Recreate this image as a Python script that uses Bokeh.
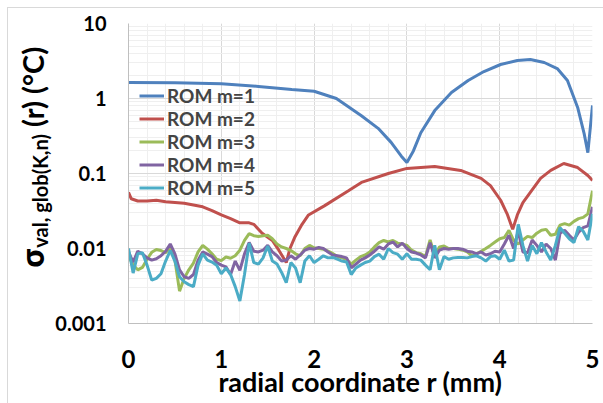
import numpy as np
from bokeh.plotting import figure
from bokeh.layouts import row
from bokeh.models import (Div, Legend, LegendItem, SingleIntervalTicker,
                          FixedTicker, CustomJSTickFormatter)
from bokeh.embed import file_html
from bokeh.resources import INLINE

# ---------------- data ----------------
series_labels = ["ROM m=1", "ROM m=2", "ROM m=3", "ROM m=4", "ROM m=5"]
series_colors = ["#4F81BD", "#C0504D", "#9BBB59", "#8064A2", "#4BACC6"]

x_ticks = [0, 1, 2, 3, 4, 5]
y_ticks = [0.001, 0.01, 0.1, 1, 10]

r_m1 = [0, 0.5, 1.0, 1.4, 1.76, 2.0, 2.24, 2.51, 2.69, 2.83, 2.94, 3.0, 3.07,
        3.15, 3.3, 3.48, 3.66, 3.83, 4.01, 4.19, 4.33, 4.48, 4.62, 4.73, 4.84,
        4.91, 4.95, 5.0]
m1 = [1.63, 1.62, 1.57, 1.45, 1.32, 1.25, 1.0, 0.59, 0.40, 0.26, 0.17, 0.14,
      0.20, 0.35, 0.69, 1.2, 1.74, 2.29, 2.84, 3.21, 3.31, 3.02, 2.51, 1.74,
      0.76, 0.34, 0.19, 0.81]

r_m2 = [0, 0.03, 0.1, 0.2, 0.3, 0.4, 0.5, 0.6, 0.7, 0.8, 0.9, 1.0, 1.1, 1.2,
        1.3, 1.35, 1.44, 1.55, 1.62, 1.7, 1.74, 1.79, 1.87, 1.94, 2.11, 2.37,
        2.51, 2.8, 3.0, 3.3, 3.58, 3.8, 3.9, 4.01, 4.08, 4.14, 4.19, 4.25,
        4.33, 4.44, 4.55, 4.69, 4.84, 4.95, 5.0]
m2 = [0.056, 0.046, 0.043, 0.043, 0.044, 0.042, 0.041, 0.040, 0.038, 0.036,
      0.032, 0.028, 0.025, 0.022, 0.022, 0.021, 0.016, 0.0128, 0.0095, 0.0065,
      0.010, 0.014, 0.021, 0.028, 0.037, 0.059, 0.076, 0.100, 0.117, 0.124,
      0.11, 0.086, 0.069, 0.044, 0.029, 0.018, 0.028, 0.041, 0.056, 0.086,
      0.11, 0.136, 0.12, 0.094, 0.081]

# radial sampling of the noisy series (0 .. 5 mm, every 0.05 mm)
r_grid = np.round(np.linspace(0, 5, 101), 2)

m3 = [0.0080, 0.0060, 0.0052, 0.0056, 0.0072, 0.0089, 0.0097, 0.0094, 0.0088, 0.0104,
      0.0070, 0.0027, 0.0040, 0.0052, 0.0064, 0.0090, 0.0110, 0.0098, 0.0085, 0.0072,
      0.0069, 0.0077, 0.0074, 0.0080, 0.0095, 0.0128, 0.0158, 0.0148, 0.0145, 0.0148,
      0.0150, 0.0135, 0.0115, 0.0105, 0.0100, 0.0094, 0.0085, 0.0080, 0.0100, 0.0110,
      0.0102, 0.0100, 0.0098, 0.0092, 0.0086, 0.0078, 0.0075, 0.0072, 0.0062, 0.0070,
      0.0078, 0.0082, 0.0090, 0.0105, 0.0120, 0.0128, 0.0122, 0.0128, 0.0118, 0.0115,
      0.0110, 0.0095, 0.0088, 0.0085, 0.0078, 0.0130, 0.0080, 0.0105, 0.0108, 0.0100,
      0.0100, 0.0098, 0.0095, 0.0090, 0.0080, 0.0085, 0.0092, 0.0100, 0.0110, 0.0122,
      0.0135, 0.0140, 0.0175, 0.0128, 0.0115, 0.0130, 0.0145, 0.0140, 0.0160, 0.0175,
      0.0180, 0.0150, 0.0155, 0.0205, 0.0215, 0.0205, 0.0230, 0.0250, 0.0260, 0.0290,
      0.0590]

m4 = [0.0090, 0.0066, 0.0092, 0.0085, 0.0075, 0.0070, 0.0073, 0.0080, 0.0092, 0.0115,
      0.0085, 0.0052, 0.0042, 0.0040, 0.0045, 0.0070, 0.0090, 0.0084, 0.0078, 0.0065,
      0.0060, 0.0057, 0.0045, 0.0068, 0.0051, 0.0085, 0.0120, 0.0092, 0.0090, 0.0095,
      0.0110, 0.0090, 0.0080, 0.0068, 0.0070, 0.0080, 0.0072, 0.0082, 0.0095, 0.0100,
      0.0098, 0.0103, 0.0100, 0.0090, 0.0082, 0.0080, 0.0078, 0.0075, 0.0055, 0.0062,
      0.0070, 0.0075, 0.0082, 0.0092, 0.0105, 0.0098, 0.0115, 0.0122, 0.0105, 0.0118,
      0.0100, 0.0090, 0.0087, 0.0082, 0.0075, 0.0120, 0.0075, 0.0095, 0.0100, 0.0098,
      0.0100, 0.0100, 0.0098, 0.0092, 0.0090, 0.0085, 0.0090, 0.0082, 0.0085, 0.0092,
      0.0090, 0.0115, 0.0150, 0.0100, 0.0170, 0.0090, 0.0088, 0.0130, 0.0110, 0.0090,
      0.0115, 0.0100, 0.0070, 0.0160, 0.0175, 0.0150, 0.0130, 0.0165, 0.0190, 0.0200,
      0.0360]

m5 = [0.0100, 0.0047, 0.0085, 0.0088, 0.0060, 0.0038, 0.0040, 0.0046, 0.0068, 0.0094,
      0.0068, 0.0042, 0.0036, 0.0033, 0.0031, 0.0060, 0.0085, 0.0070, 0.0066, 0.0060,
      0.0046, 0.0055, 0.0045, 0.0031, 0.0020, 0.0045, 0.0118, 0.0065, 0.0062, 0.0075,
      0.0108, 0.0068, 0.0062, 0.0048, 0.0035, 0.0065, 0.0055, 0.0035, 0.0068, 0.0080,
      0.0065, 0.0072, 0.0080, 0.0075, 0.0076, 0.0072, 0.0068, 0.0066, 0.0045, 0.0055,
      0.0060, 0.0065, 0.0068, 0.0078, 0.0084, 0.0072, 0.0100, 0.0088, 0.0084, 0.0072,
      0.0085, 0.0072, 0.0072, 0.0070, 0.0060, 0.0052, 0.0110, 0.0052, 0.0078, 0.0072,
      0.0075, 0.0076, 0.0076, 0.0075, 0.0078, 0.0080, 0.0075, 0.0068, 0.0078, 0.0080,
      0.0072, 0.0095, 0.0068, 0.0070, 0.0210, 0.0110, 0.0068, 0.0110, 0.0085, 0.0120,
      0.0090, 0.0070, 0.0110, 0.0190, 0.0160, 0.0135, 0.0120, 0.0195, 0.0170, 0.0130,
      0.0290]

W_LEFT = 52
H = 403

# ---------------- main figure ----------------
p = figure(width=603 - W_LEFT, height=H, x_range=(0, 5), y_range=(0.001, 10),
           y_axis_type="log", output_backend="svg", toolbar_location=None,
           min_border_left=126 - W_LEFT, min_border_right=11, min_border_top=23,
           min_border_bottom=80)
p.outline_line_color = None
p.background_fill_color = "white"
p.border_fill_color = None

xt = SingleIntervalTicker(interval=1, num_minor_ticks=5)
p.xaxis.ticker = xt
p.xgrid.ticker = xt
minor_y = [k * 10.0 ** d for d in range(-3, 1) for k in range(2, 10)]
yt = FixedTicker(ticks=y_ticks, minor_ticks=minor_y)
p.yaxis.ticker = yt
p.ygrid.ticker = yt
p.yaxis.formatter = CustomJSTickFormatter(code="return tick.toString();")

for g in (p.xgrid[0], p.ygrid[0]):
    g.grid_line_color = "#d9d9d9"
    g.minor_grid_line_color = "#efefef"

for ax in (p.xaxis[0], p.yaxis[0]):
    ax.axis_line_color = "#bfbfbf"
    ax.major_tick_out = 0
    ax.major_tick_in = 0
    ax.minor_tick_out = 0
    ax.minor_tick_in = 0
    ax.major_label_text_font = "Lato"
    ax.major_label_text_font_style = "bold"
    ax.major_label_text_color = "black"
p.xaxis.major_label_text_font_size = "24px"
p.xaxis.major_label_standoff = 26
p.yaxis.major_label_text_font_size = "20px"
p.yaxis.major_label_standoff = 22

p.xaxis.axis_label = "radial coordinate r (mm)"
p.xaxis.axis_label_text_font = "Lato"
p.xaxis.axis_label_text_font_style = "bold"
p.xaxis.axis_label_text_font_size = "27px"
p.xaxis.axis_label_text_color = "black"
p.xaxis.axis_label_standoff = -6

xs = [r_m1, r_m2, r_grid, r_grid, r_grid]
ys = [m1, m2, m3, m4, m5]
renderers = []
for x, y, c in zip(xs, ys, series_colors):
    renderers.append(p.line(x, y, line_color=c, line_width=3))

legend = Legend(items=[LegendItem(label=l, renderers=[r]) for l, r in zip(series_labels, renderers)],
                location=(11, 124), glyph_width=25, glyph_height=23, label_height=23,
                spacing=0, padding=0, margin=0, label_standoff=3,
                border_line_color=None, background_fill_alpha=0,
                label_text_font="Lato", label_text_font_style="bold",
                label_text_font_size="19px", label_text_baseline="middle")
p.add_layout(legend)

# ---------------- left strip: rotated y-axis title (real text) ----------------
y_title_html = (
    '<div style="position:relative;width:52px;height:403px;overflow:visible;">'
    '<div style="position:absolute;left:14px;top:268px;transform-origin:0 0;'
    'transform:rotate(-90deg);white-space:nowrap;font-family:Lato,\'Noto Sans\',sans-serif;'
    'font-weight:bold;font-size:29px;line-height:36px;color:#000;">'
    '<span style="font-family:\'Noto Sans\',sans-serif;font-size:31px;">σ</span>'
    '<span style="font-size:20px;position:relative;top:4px;">val, glob(K,n)</span>'
    ' (r) (°C)</div></div>'
)
t = Div(text=y_title_html, width=W_LEFT, height=H, margin=0)

layout = row(t, p, spacing=0)
layout.styles = {
    "background": "linear-gradient(#d9d9d9,#d9d9d9) 7px 7px / 596px 1px no-repeat, "
                  "linear-gradient(#d9d9d9,#d9d9d9) 7px 7px / 1px 396px no-repeat"
}

open("out.html", "w").write(file_html(layout, INLINE))
